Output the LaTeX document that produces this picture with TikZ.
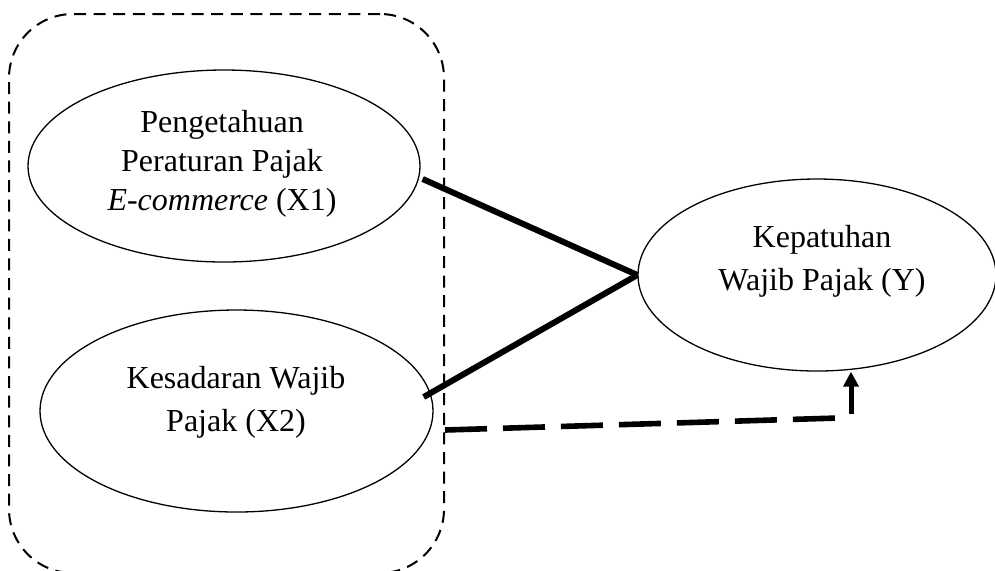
\documentclass[tikz,border=0pt]{standalone}
\usepackage{fontspec}
\setmainfont{Liberation Serif}
\usetikzlibrary{arrows.meta,shapes.geometric}
\begin{document}
\begin{tikzpicture}[x=0.5pt,y=-0.5pt,
  ell/.style={draw, ellipse, line width=0.65pt, inner sep=0pt},
  lbl/.style={align=center, inner sep=0pt},
  grpbox/.style={draw, line width=1pt, dash pattern=on 6pt off 3.8pt, rounded corners=32pt, inner sep=0pt},
  strongline/.style={line width=3pt},
  dashline/.style={line width=2.8pt, dash pattern=on 21pt off 8pt},
  arrowline/.style={line width=2.5pt, -{Triangle[width=7.5pt,length=7.5pt]}}]
\useasboundingbox (0,0) rectangle (995,570);
\node[grpbox, minimum width=217.5pt, minimum height=279.5pt] (grp) at (226.5,293.5) {};
\node[ell, minimum width=196pt, minimum height=96pt] (x1) at (224,166) {};
\node[ell, minimum width=196.5pt, minimum height=101pt] (x2) at (236.5,411) {};
\node[ell, minimum width=179pt, minimum height=96pt] (y) at (817,275) {};
\node[lbl, font=\fontsize{16}{19.6}\selectfont] (t1) at (222,163.5) {Pengetahuan\\Peraturan Pajak\\\textit{E-commerce} (X1)};
\node[lbl, font=\fontsize{16}{21.5}\selectfont] (t2) at (236,402) {Kesadaran Wajib\\Pajak (X2)};
\node[lbl, font=\fontsize{16}{21.5}\selectfont] (t3) at (822,261) {Kepatuhan\\Wajib Pajak (Y)};
\draw[strongline] ([shift={(2,13)}]x1.east) -- (y.west);
\draw[strongline] ([shift={(-10,-14)}]x2.east) -- (y.west);
\coordinate (d0) at (grp.east |- 0,430);
\coordinate (d1) at (838,418);
\draw[dashline] (d0) -- (d1);
\coordinate (a0) at (851,414);
\draw[arrowline] (a0) -- (a0 |- y.south);
\end{tikzpicture}
\end{document}
